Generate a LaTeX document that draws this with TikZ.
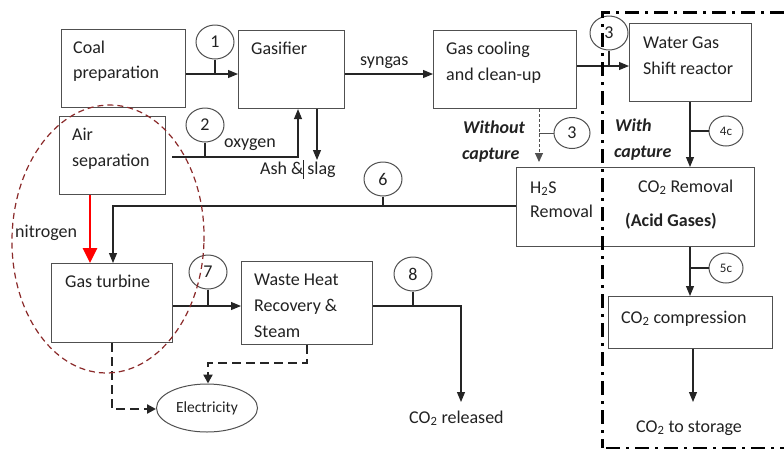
\documentclass[tikz,border=0pt]{standalone}
\usepackage{fontspec}
\setmainfont{Carlito}
\usetikzlibrary{arrows.meta,shapes.geometric}
\definecolor{boxgray}{HTML}{505050}
\definecolor{linecol}{HTML}{252525}
\definecolor{txtcol}{HTML}{222222}
\definecolor{brownred}{HTML}{8B2A2A}
\begin{document}
\begin{tikzpicture}[x=1pt,y=-1pt,
  font=\fontsize{18}{24}\selectfont, text=txtcol,
  box/.style={draw=boxgray, line width=1.1pt, inner sep=0pt, anchor=north west},
  num/.style={draw=boxgray, ellipse, line width=1pt, minimum width=38pt, minimum height=34pt, inner sep=0pt},
  smallnum/.style={num, minimum width=34pt, minimum height=30pt, font=\fontsize{13}{15}\selectfont},
  lbl/.style={anchor=base west, inner sep=0pt},
  arr/.style={-{Triangle[length=10pt,width=8pt]}, line width=1.1pt, draw=linecol},
  ln/.style={line width=1.1pt, draw=linecol},
  dasharr/.style={-{Triangle[length=9pt,width=9pt]}, line width=2.4pt, draw=linecol, dash pattern=on 9pt off 5pt},
  dotarr/.style={-{Triangle[length=9pt,width=8pt]}, line width=1pt, draw=boxgray, dash pattern=on 3pt off 2pt},
  bi/.style={lbl, font=\fontsize{18}{24}\selectfont\bfseries\itshape},
]
\useasboundingbox (0,0) rectangle (784,448);
\fill[white] (0,0) rectangle (784,448);

% boxes
\node[box, minimum width=124pt, minimum height=78pt] (coal) at (61,29) {};
\node[box, minimum width=106pt, minimum height=78pt] (gas) at (238,30) {};
\node[box, minimum width=106pt, minimum height=78pt] (air) at (59,116) {};
\node[box, minimum width=143pt, minimum height=78pt] (cool) at (433,30) {};
\node[box, minimum width=122pt, minimum height=78pt] (wgs) at (629,23) {};
\node[box, minimum width=238pt, minimum height=79pt] (acid) at (516,167) {};
\node[box, minimum width=121pt, minimum height=79pt] (gt) at (51,263) {};
\node[box, minimum width=131pt, minimum height=83pt] (whr) at (241,261) {};
\node[box, minimum width=164pt, minimum height=52pt] (comp) at (608,296) {};
\node[draw=boxgray, ellipse, line width=1pt, minimum width=101pt, minimum height=48pt, inner sep=0pt,
      font=\fontsize{15.5}{18}\selectfont] (elec) at (207,408) {Electricity};

% box texts
\node[lbl] (tcoal) at (73,53) {Coal};
\node[lbl] (tcoal2) at (73,78) {preparation};
\node[lbl] (tgas) at (251,54) {Gasifier};
\node[lbl] (tair) at (72,140) {Air};
\node[lbl] (tair2) at (72,166) {separation};
\node[lbl] (tcool) at (446,54) {Gas cooling};
\node[lbl] (tcool2) at (446,80) {and clean-up};
\node[lbl] (twgs) at (643,48) {Water Gas};
\node[lbl] (twgs2) at (643,74) {Shift reactor};
\node[lbl] (th2s) at (530,193) {H\textsubscript{2}S};
\node[lbl] (th2s2) at (530,217) {Removal};
\node[lbl] (tco2r) at (638,192) {CO\textsubscript{2} Removal};
\node[lbl, font=\fontsize{18}{24}\selectfont\bfseries] (tacid) at (625,226) {(Acid Gases)};
\node[lbl] (tgt) at (65,287) {Gas turbine};
\node[lbl] (twhr) at (254,285) {Waste Heat};
\node[lbl] (twhr2) at (254,311) {Recovery \&};
\node[lbl] (twhr3) at (254,337) {Steam};
\node[lbl] (tcomp) at (621,323) {CO\textsubscript{2} compression};

% free labels
\node[lbl] (tsyn) at (360,65) {syngas};
\node[lbl] (toxy) at (224,147) {oxygen};
\node[lbl] (tash) at (260,174) {Ash \&\hspace{4pt}slag};
\draw[line width=0.8pt, draw=linecol] (303,160) -- (303,179);
\node[lbl] (tnit) at (15,237) {nitrogen};
\node[bi] (two) at (463,133) {Without};
\node[bi] (two2) at (462,159) {capture};
\node[bi] (twi) at (615,131) {With};
\node[bi] (twi2) at (614,157) {capture};
\node[lbl] (trel) at (409,423) {CO\textsubscript{2} released};
\node[lbl] (tsto) at (636,432) {CO\textsubscript{2} to storage};

% number circles
\node[num] (c1) at (215,42) {1};
\node[num] (c2) at (205,125) {2};
\node[num] (c3a) at (609,33) {3};
\node[num, minimum width=36pt, minimum height=31pt] (c3b) at (572,133) {3};
\node[smallnum] (c4) at (726,131) {4c};
\node[smallnum] (c5) at (726,268) {5c};
\node[num] (c6) at (383,179) {6};
\node[num] (c7) at (208,272) {7};
\node[num] (c8) at (413,274) {8};

% coordinates
\coordinate (y74) at (0,74);
\coordinate (y66) at (0,66);
\coordinate (oxs) at (172,157);
\coordinate (oxc) at (298,157);
\coordinate (ash) at (317,160);
\coordinate (h2sc) at (539,162);
\coordinate (l6) at (113,206);
\coordinate (y306) at (0,306);
\coordinate (rel) at (461,306);
\coordinate (relend) at (461,402);
\coordinate (sto) at (693,402);
\coordinate (ex1) at (112,409);
\coordinate (ex2) at (307,363);
\coordinate (ex3) at (208,363);

% connectors
\draw[arr] (coal.east |- y74) -- (gas.west |- y74);
\draw[ln] (c1.south) -- (c1.south |- y74);
\draw[arr] (gas.east |- y74) -- (cool.west |- y74);
\draw[arr] (cool.east |- y66) -- (wgs.west |- y66);
\draw[ln] (c3a.south) -- (c3a.south |- y66);
\draw[arr] (oxs) -- (oxc) -- (gas.south -| oxc);
\draw[ln] (c2.south) -- (c2.south |- oxs);
\draw[arr] (gas.south -| ash) -- (ash);
\draw[dotarr] (cool.south -| h2sc) -- (h2sc);
\draw[line width=1pt, draw=boxgray] (c3b.west) -- (c3b.west -| h2sc);
\draw[arr] (wgs.south -| 690,0) -- (acid.north -| 690,0);
\draw[ln] (c4.west) -- (c4.west -| 690,0);
\draw[arr] (acid.south -| 690,0) -- (comp.north -| 690,0);
\draw[ln] (c5.west) -- (c5.west -| 690,0);
\draw[arr] (comp.south -| sto) -- (sto);
\draw[arr] (acid.west |- l6) -- (l6) -- (gt.north -| l6);
\draw[ln] (c6.south) -- (c6.south |- l6);
\draw[-{Triangle[length=15pt,width=14pt]}, line width=2.6pt, draw=red] (air.south -| 90,0) -- (gt.north -| 90,0);
\draw[arr] (gt.east |- y306) -- (whr.west |- y306);
\draw[ln] (c7.south) -- (c7.south |- y306);
\draw[arr] (whr.east |- rel) -- (rel) -- (relend);
\draw[ln] (c8.south) -- (c8.south |- rel);
\draw[dasharr] (gt.south -| ex1) -- (ex1) -- (elec.west |- ex1);
\draw[dasharr] (whr.south -| ex2) -- (ex2) -- (ex3) -- (elec.north -| ex3);

% capture boundary
\draw[line width=3pt, draw=black, dash pattern=on 14pt off 6pt on 3pt off 6pt] (784,12) -- (602,12) -- (602,448);
\draw[line width=3pt, draw=black, dash pattern=on 14pt off 6pt on 3pt off 6pt] (606,448.5) -- (784,448.5);

% dashed ellipse
\draw[brownred, line width=1.2pt, dash pattern=on 6pt off 4pt, rotate around={-1.5:(108,239)}] (108,239) ellipse [x radius=96pt, y radius=134pt];
\end{tikzpicture}
\end{document}
